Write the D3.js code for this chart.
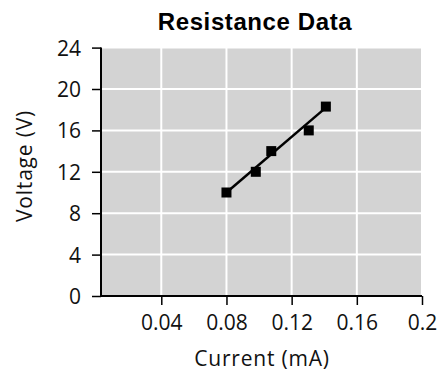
<!DOCTYPE html>
<html>
<head>
<meta charset="utf-8">
<script src="https://cdn.jsdelivr.net/npm/d3@7"></script>
<style>
  body { margin: 0; background: #fff; }
  svg { display: block; }
</style>
</head>
<body>
<script>
// data
const currentMA = [0.08, 0.098, 0.1075, 0.1305, 0.141];
const voltageV = [10, 12, 14, 16, 18.3];
const fitX = [0.08, 0.141];
const fitY = [10, 18.2];
const xTicks = [0.04, 0.08, 0.12, 0.16, 0.2];
const yTicks = [0, 4, 8, 12, 16, 20, 24];

const width = 441, height = 372;
const plotLeft = 101, plotRight = 422, plotTop = 47.6, plotBottom = 296;

const svg = d3.select("body")
    .append("svg")
    .attr("width", width)
    .attr("height", height);

const x = d3.scaleLinear().domain([0.003, 0.2]).range([plotLeft, plotRight]);
const y = d3.scaleLinear().domain([0, 24]).range([plotBottom, plotTop]);

// plot background
svg.append("rect")
    .attr("x", plotLeft)
    .attr("y", plotTop)
    .attr("width", plotRight - plotLeft)
    .attr("height", plotBottom - plotTop)
    .attr("fill", "#d3d3d3");

// grid
svg.append("g")
    .selectAll("line")
    .data(xTicks)
    .join("line")
    .attr("x1", d => x(d)).attr("x2", d => x(d))
    .attr("y1", plotTop).attr("y2", plotBottom)
    .attr("stroke", "#fff")
    .attr("stroke-width", 2);

svg.append("g")
    .selectAll("line")
    .data(yTicks.filter(d => d > 0))
    .join("line")
    .attr("x1", plotLeft).attr("x2", plotRight)
    .attr("y1", d => y(d)).attr("y2", d => y(d))
    .attr("stroke", "#fff")
    .attr("stroke-width", 2);

// axes
const xAxis = svg.append("g")
    .attr("transform", `translate(0,${plotBottom})`)
    .call(d3.axisBottom(x).tickValues(xTicks).tickSize(9).tickPadding(10)
        .tickFormat(d => d === 0.2 ? "0.2" : d3.format(".2f")(d)));

const yAxis = svg.append("g")
    .attr("transform", `translate(${plotLeft},0)`)
    .call(d3.axisLeft(y).tickValues(yTicks).tickSize(9).tickPadding(11));

[xAxis, yAxis].forEach(a => {
  a.select(".domain").remove();
  a.selectAll(".tick line").attr("stroke", "#000").attr("stroke-width", 1.5);
  a.selectAll("text")
      .attr("fill", "#111")
      .style("font-family", "'Open Sans', sans-serif")
      .style("font-size", "21px");
});
xAxis.selectAll("text").attr("dy", "0.72em");
yAxis.selectAll("text").attr("dy", "0.36em");

// axis lines
svg.append("line")
    .attr("x1", plotLeft).attr("x2", plotRight)
    .attr("y1", plotBottom).attr("y2", plotBottom)
    .attr("stroke", "#000").attr("stroke-width", 2);
svg.append("line")
    .attr("x1", plotLeft).attr("x2", plotLeft)
    .attr("y1", plotTop).attr("y2", plotBottom)
    .attr("stroke", "#000").attr("stroke-width", 2);

// fit line
svg.append("line")
    .attr("x1", x(fitX[0])).attr("y1", y(fitY[0]))
    .attr("x2", x(fitX[1])).attr("y2", y(fitY[1]))
    .attr("stroke", "#000")
    .attr("stroke-width", 2.5);

// points
const size = 10;
svg.append("g")
    .selectAll("rect")
    .data(currentMA.map((c, i) => [c, voltageV[i]]))
    .join("rect")
    .attr("x", d => x(d[0]) - size / 2)
    .attr("y", d => y(d[1]) - size / 2)
    .attr("width", size)
    .attr("height", size)
    .attr("fill", "#000");

// title and labels
svg.append("text")
    .attr("x", 255)
    .attr("y", 30)
    .attr("text-anchor", "middle")
    .style("font-family", "'Liberation Sans', Arial, sans-serif")
    .style("font-weight", "bold")
    .style("font-size", "24px")
    .style("letter-spacing", "0.6px")
    .text("Resistance Data");

svg.append("text")
    .attr("x", 262)
    .attr("y", 366)
    .attr("text-anchor", "middle")
    .attr("fill", "#111")
    .style("font-family", "'Open Sans', sans-serif")
    .style("font-size", "21px")
    .style("letter-spacing", "0.8px")
    .text("Current (mA)");

svg.append("text")
    .attr("transform", "translate(32,166) rotate(-90)")
    .attr("text-anchor", "middle")
    .attr("fill", "#111")
    .style("font-family", "'Open Sans', sans-serif")
    .style("font-size", "21px")
    .style("letter-spacing", "0.8px")
    .text("Voltage (V)");
</script>
</body>
</html>
